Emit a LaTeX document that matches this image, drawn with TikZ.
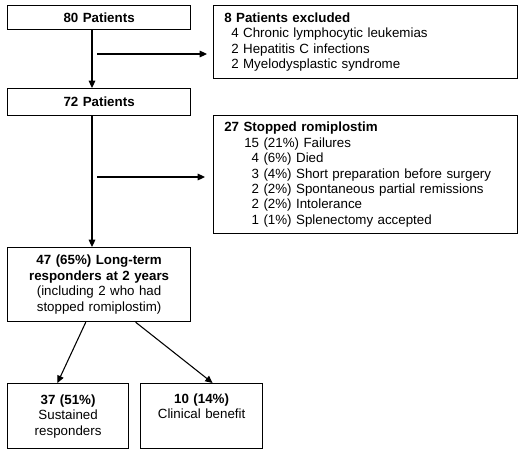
\documentclass[tikz,border=0pt]{standalone}
\usepackage{fontspec}
\setmainfont{Liberation Sans}
\usetikzlibrary{arrows.meta}
\tikzstyle{boxStyle}=[shape = rectangle, draw, line width = 0.9pt, anchor = north west, inner ysep = 0pt, font = \fontsize{10}{11.6}\selectfont]
\tikzstyle{centerBox}=[boxStyle, align = center, inner xsep = 0pt]
\tikzstyle{leftBox}=[boxStyle, align = left, inner xsep = 8pt, text width = 212pt, minimum width = 228pt]
\tikzstyle{arrowStyle}=[line width = 0.8pt, -{Triangle[length = 5.5pt, width = 5pt]}]

\begin{document}
\begin{tikzpicture}[x = 0.75pt, y = -0.75pt]
\useasboundingbox (0,0) rectangle (520,453);
\node[centerBox, text width = 137.25pt, minimum height = 18pt] (p80) at (7,5) {\textbf{80 Patients}};
\node[centerBox, text width = 137.25pt, minimum height = 20.25pt] (p72) at (7,88) {\textbf{72 Patients}};
\node[centerBox, text width = 137.25pt, minimum height = 55.5pt] (resp) at (7,247) {\textbf{47 (65\%) Long-term}\\ \textbf{responders at 2 years}\\ (including 2 who had\\ stopped romiplostim)};
\node[centerBox, text width = 90.75pt, minimum height = 48.75pt] (sust) at (7,383) {\textbf{37 (51\%)}\\ Sustained\\ responders};
\node[centerBox, text width = 91.5pt, minimum height = 48.75pt] (clin) at (140,383) {\textbf{10 (14\%)}\\ Clinical benefit\\ \strut};
\node[leftBox, minimum height = 54.75pt] (excl) at (213,5) {\textbf{8 Patients excluded}\\
\hspace*{5.25pt}4 Chronic lymphocytic leukemias\\
\hspace*{5.25pt}2 Hepatitis C infections\\
\hspace*{5.25pt}2 Myelodysplastic syndrome};
\node[leftBox, minimum height = 88.5pt] (stop) at (213,115) {\textbf{27 Stopped romiplostim}\\
\hspace*{15pt}15 (21\%) Failures\\
\hspace*{15pt}\phantom{1}4 (6\%) Died\\
\hspace*{15pt}\phantom{1}3 (4\%) Short preparation before surgery\\
\hspace*{15pt}\phantom{1}2 (2\%) Spontaneous partial remissions\\
\hspace*{15pt}\phantom{1}2 (2\%) Intolerance\\
\hspace*{15pt}\phantom{1}1 (1\%) Splenectomy accepted};
\coordinate (spine) at (92,0);
\coordinate (cutA) at (97,54);
\coordinate (cutB) at (97,177);
\draw[arrowStyle] (p80.south -| spine) -- (p72.north -| spine);
\draw[arrowStyle] (p72.south -| spine) -- (resp.north -| spine);
\draw[arrowStyle, shorten >= 4.5pt] (cutA) -- (cutA -| excl.west);
\draw[arrowStyle, shorten >= 6pt] (cutB) -- (cutB -| stop.west);
\draw[arrowStyle] ([xshift = -10pt]resp.south) -- ([xshift = -8pt]sust.north);
\draw[arrowStyle] ([xshift = 27.4pt]resp.south) -- ([xshift = 8.25pt]clin.north);
\end{tikzpicture}
\end{document}
